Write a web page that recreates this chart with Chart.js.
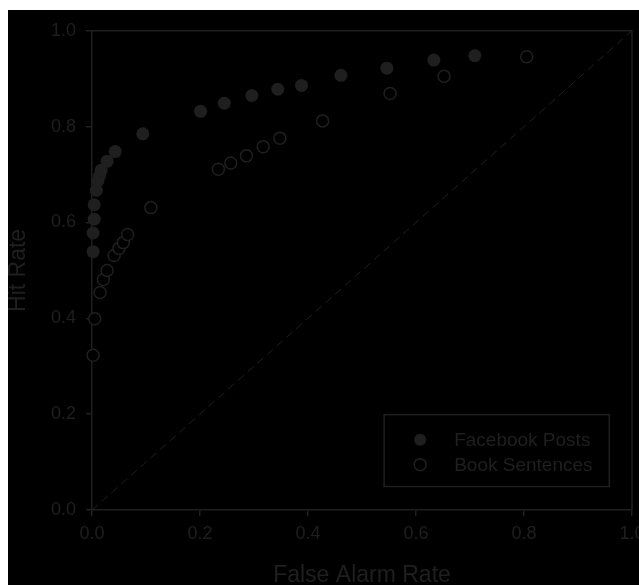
<!DOCTYPE html>
<html>
<head>
<meta charset="utf-8">
<script src="https://cdn.jsdelivr.net/npm/chart.js@4"></script>
<style>
  html, body { margin: 0; padding: 0; background: #fff; overflow: hidden; }
  #wrap { position: absolute; left: 8px; top: 10px; width: 660px; height: 600px; background: #000; }
</style>
</head>
<body>
<div id="wrap"><canvas id="roc-chart"></canvas></div>
<script>
// Data
const seriesLabels = ['Facebook Posts', 'Book Sentences'];
const facebookFalseAlarm = [0.002, 0.002, 0.004, 0.004, 0.008, 0.011, 0.014, 0.017, 0.028, 0.043, 0.094, 0.201, 0.245, 0.296, 0.344, 0.388, 0.461, 0.546, 0.633, 0.709];
const facebookHit = [0.539, 0.578, 0.607, 0.637, 0.667, 0.687, 0.697, 0.709, 0.728, 0.748, 0.785, 0.832, 0.849, 0.865, 0.878, 0.886, 0.907, 0.922, 0.939, 0.948];
const bookFalseAlarm = [0.002, 0.005, 0.015, 0.021, 0.028, 0.041, 0.050, 0.058, 0.066, 0.109, 0.234, 0.257, 0.286, 0.317, 0.348, 0.427, 0.552, 0.652, 0.805];
const bookHit = [0.323, 0.399, 0.454, 0.481, 0.500, 0.531, 0.546, 0.558, 0.575, 0.631, 0.711, 0.724, 0.739, 0.758, 0.776, 0.812, 0.869, 0.905, 0.946];
const chanceX = [0, 1];
const chanceY = [0, 1];
const tickValues = [0, 0.2, 0.4, 0.6, 0.8, 1.0];

const ink = '#1f1f1f';
const fontFamily = '"Liberation Sans", Arial, sans-serif';

const toPoints = (xs, ys) => xs.map((x, i) => ({ x: x, y: ys[i] }));

// top + right frame lines and the boxed legend
const framePlugin = {
  id: 'frame',
  afterDraw(chart) {
    const ctx = chart.ctx;
    const a = chart.chartArea;
    const xs = chart.scales.x, ys = chart.scales.y;
    ctx.save();
    ctx.strokeStyle = ink;
    ctx.lineWidth = 1.5;
    ctx.beginPath();
    ctx.moveTo(a.left, a.top);
    ctx.lineTo(a.right, a.top);
    ctx.lineTo(a.right, a.bottom);
    ctx.stroke();

    // legend box
    const bx = xs.getPixelForValue(0.541), bx2 = xs.getPixelForValue(0.958);
    const by = ys.getPixelForValue(0.199), by2 = ys.getPixelForValue(0.049);
    ctx.strokeRect(bx, by, bx2 - bx, by2 - by);

    ctx.font = '19px ' + fontFamily;
    ctx.textBaseline = 'middle';
    ctx.fillStyle = ink;
    chart.data.datasets.slice(0, 2).forEach((ds, i) => {
      const cy = by + 25 + i * 25;
      const cx = bx + 36;
      ctx.beginPath();
      ctx.arc(cx, cy, 6, 0, Math.PI * 2);
      if (ds.pointBackgroundColor !== '#000') {
        ctx.fillStyle = ink;
        ctx.fill();
      } else {
        ctx.lineWidth = 1.5;
        ctx.stroke();
      }
      ctx.fillStyle = ink;
      ctx.fillText(ds.label, bx + 70, cy + 1);
    });
    ctx.restore();
  }
};

const chartCanvas = document.querySelector('#roc-chart');

const rocChart = new Chart(chartCanvas, {
  type: 'scatter',
  data: {
    datasets: [
      {
        label: seriesLabels[0],
        data: toPoints(facebookFalseAlarm, facebookHit),
        pointRadius: 6.5,
        pointBackgroundColor: ink,
        pointBorderColor: ink,
        pointBorderWidth: 0,
        clip: false,
        order: 1
      },
      {
        label: seriesLabels[1],
        data: toPoints(bookFalseAlarm, bookHit),
        pointRadius: 6,
        pointBackgroundColor: '#000',
        pointBorderColor: ink,
        pointBorderWidth: 1.5,
        clip: false,
        order: 0
      },
      {
        label: 'chance',
        type: 'line',
        data: toPoints(chanceX, chanceY),
        borderColor: ink,
        borderWidth: 1,
        borderDash: [8, 5],
        pointRadius: 0,
        fill: false,
        order: 2
      }
    ]
  },
  options: {
    responsive: true,
    maintainAspectRatio: false,
    animation: false,
    layout: { padding: { top: 10, right: 36, bottom: 0, left: 0 } },
    plugins: {
      legend: { display: false },
      tooltip: { enabled: false }
    },
    scales: {
      x: {
        type: 'linear',
        min: 0,
        max: 1,
        afterBuildTicks: scale => { scale.ticks = tickValues.map(v => ({ value: v })); },
        afterFit: scale => { scale.height = 100; scale.paddingLeft = 0; scale.paddingRight = 0; },
        border: { color: ink, width: 1.5 },
        grid: { drawOnChartArea: false, drawTicks: true, tickLength: 6, color: ink, lineWidth: 1.5 },
        ticks: {
          color: ink,
          padding: 7,
          maxRotation: 0,
          font: { family: fontFamily, size: 18 },
          callback: value => value.toFixed(1)
        },
        title: {
          display: true,
          text: 'False Alarm Rate',
          color: ink,
          font: { family: fontFamily, size: 23 },
          padding: { top: 0, bottom: 21 }
        }
      },
      y: {
        type: 'linear',
        min: 0,
        max: 1,
        afterBuildTicks: scale => { scale.ticks = tickValues.map(v => ({ value: v })); },
        afterFit: scale => { scale.width = 84; },
        border: { color: ink, width: 1.5 },
        grid: { drawOnChartArea: false, drawTicks: true, tickLength: 6, color: ink, lineWidth: 1.5 },
        ticks: {
          color: ink,
          padding: 10,
          font: { family: fontFamily, size: 18 },
          callback: value => value.toFixed(1)
        },
        title: {
          display: true,
          text: 'Hit Rate',
          color: ink,
          font: { family: fontFamily, size: 23 },
          padding: { top: -3, bottom: 0 }
        }
      }
    }
  },
  plugins: [framePlugin]
});
</script>
</body>
</html>
